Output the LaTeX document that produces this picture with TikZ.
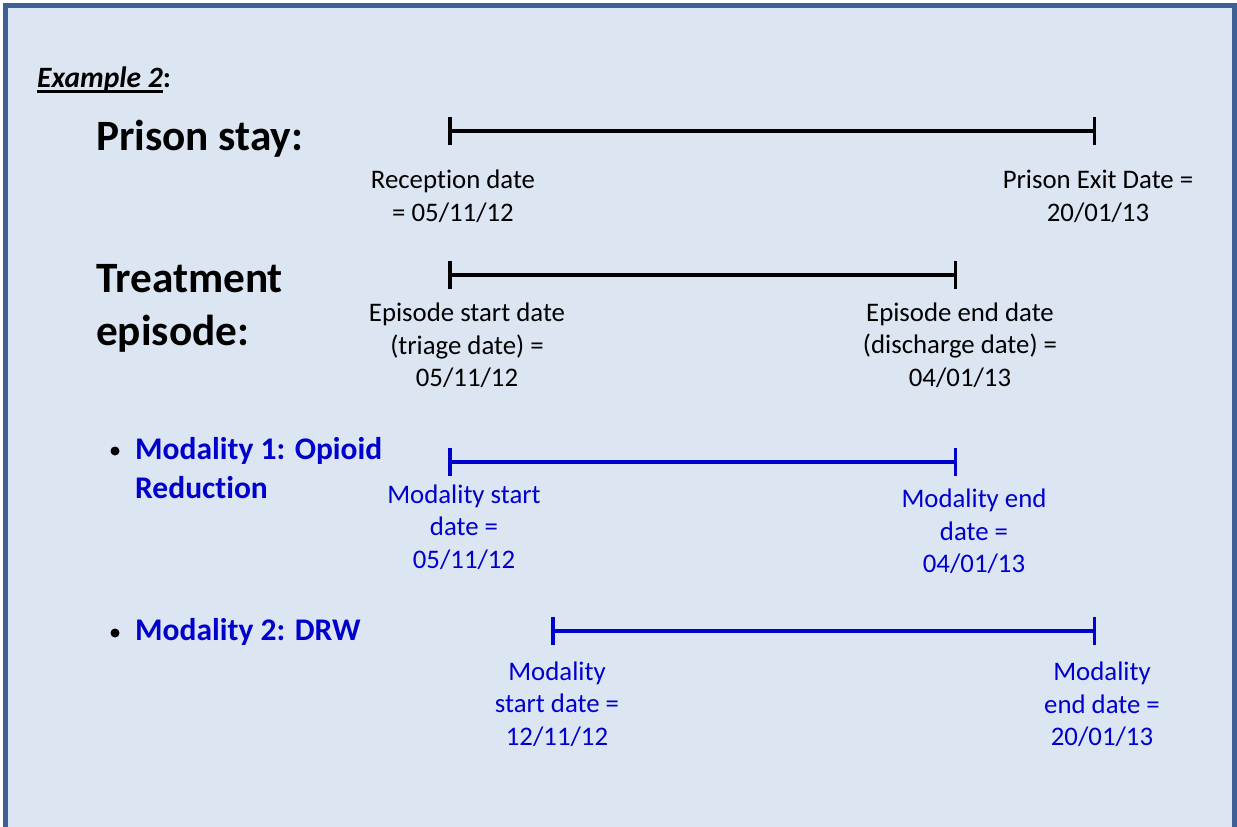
\documentclass[tikz,border=0pt]{standalone}
\usepackage{fontspec}
\setmainfont{Carlito}[Ligatures=NoCommon]
\usetikzlibrary{arrows.meta}
\definecolor{bgfill}{RGB}{220,230,242}
\definecolor{frame}{RGB}{62,96,146}
\definecolor{tblue}{RGB}{0,0,204}
\newcommand\myul[1]{\setbox0\hbox{#1}\rlap{\rule[-5.5pt]{\wd0}{3pt}}\box0}
\tikzset{
  lbl/.style={align=center, inner sep=0pt, font=\fontsize{26.8}{32.5}\selectfont},
  blbl/.style={lbl, text=tblue},
  head/.style={anchor=west, inner sep=0pt, font=\bfseries\fontsize{43.3}{53}\selectfont},
  bhead/.style={anchor=west, inner sep=0pt, align=left, text=tblue, font=\bfseries\fontsize{31.5}{39}\selectfont},
  bullet/.style={circle, fill=black, inner sep=0pt, minimum size=9pt},
  bar/.style={line width=3.5pt, {Bar[width=28pt]}-{Bar[width=28pt]}},
}
\begin{document}
\begin{tikzpicture}[x=1pt,y=-1pt]
\useasboundingbox (0,0) rectangle (1237,827);
\fill[bgfill] (5.5,5) rectangle (1234,827);
\draw[frame, line width=5pt] (5.5,827) -- (5.5,5) -- (1234,5) -- (1234,827);

\node[anchor=base west, inner sep=0pt, font=\bfseries\fontsize{29.5}{36}\selectfont] (ex) at (37,87) {\myul{\textit{Example 2}}:};

% headings
\node[head] (ps) at (96,139) {Prison stay:};
\node[head, align=left] (te) at (96,308.5) {Treatment\\episode:};
\node[bullet] (b1) at (115,451) {};
\node[bhead] (m1) at (135,468.5) {Modality 1: Opioid\\Reduction};
\node[bullet] (b2) at (115,633) {};
\node[bhead] (m2) at (135,632) {Modality 2: DRW};

% bars
\coordinate (ps1) at (448,131);
\coordinate (ps2) at (1096,131);
\coordinate (te1) at (448,275);
\coordinate (te2) at (957,275);
\coordinate (m11) at (448,462);
\coordinate (m12) at (957,462);
\coordinate (m21) at (551,631);
\coordinate (m22) at (1096,631);
\draw[bar] (ps1) -- (ps2);
\draw[bar] (te1) -- (te2);
\draw[bar, tblue] (m11) -- (m12);
\draw[bar, tblue] (m21) -- (m22);

% labels
\node[lbl] (l1) at (453,196.5) {Reception date\\= 05/11/12};
\node[lbl] (l2) at (1098,196.5) {Prison Exit Date =\\20/01/13};
\node[lbl] (l3) at (467,345.5) {Episode start date\\(triage date) =\\05/11/12};
\node[lbl] (l4) at (960,345) {Episode end date\\(discharge date) =\\04/01/13};
\node[blbl] (l5) at (464,527) {Modality start\\date =\\05/11/12};
\node[blbl] (l6) at (974,531.5) {Modality end\\date =\\04/01/13};
\node[blbl] (l7) at (557,704) {Modality\\start date =\\12/11/12};
\node[blbl] (l8) at (1102,704.5) {Modality\\end date =\\20/01/13};
\end{tikzpicture}
\end{document}
